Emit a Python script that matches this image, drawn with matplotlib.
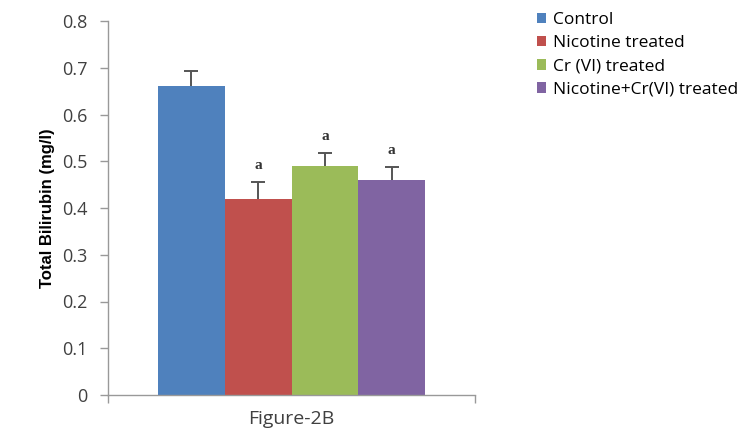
import matplotlib
matplotlib.use("Agg")
import matplotlib.pyplot as plt
from matplotlib.patches import Patch

groups = ["Control", "Nicotine treated", "Cr (VI) treated", "Nicotine+Cr(VI) treated"]
values = [0.66, 0.42, 0.49, 0.46]
errors = [0.033, 0.036, 0.028, 0.028]
marks = ["", "a", "a", "a"]
colors = ["#4F81BD", "#C0504D", "#9BBB59", "#8064A2"]
yticks = [0, 0.1, 0.2, 0.3, 0.4, 0.5, 0.6, 0.7, 0.8]
ytick_labels = ["0", "0.1", "0.2", "0.3", "0.4", "0.5", "0.6", "0.7", "0.8"]

plt.rcParams["font.family"] = ["Open Sans", "DejaVu Sans"]

fig = plt.figure(figsize=(7.52, 4.32), dpi=100)
ax = fig.add_axes([108 / 752, 1 - 395 / 432, (475 - 108) / 752, (395 - 21) / 432])

x = list(range(len(values)))
ax.bar(x, values, width=1.0, color=colors, edgecolor="none", zorder=2)
eb = ax.errorbar(x, values, yerr=[[0] * len(errors), errors], fmt="none",
                 ecolor="#555555", elinewidth=1.4, capsize=5, capthick=1.4, zorder=3)
# only the upper cap is shown
eb.lines[1][0].set_visible(False)

for xi, v, e, m in zip(x, values, errors, marks):
    if m:
        ax.text(xi, v + e + 0.035, m, ha="center", va="center",
                fontsize=11, fontweight="bold", family="Liberation Serif", color="#333333")

ax.set_ylim(0, 0.8)
ax.set_xlim(-1.25, 4.25)
ax.set_yticks(yticks)
ax.set_yticklabels(ytick_labels, fontsize=13, color="#404040")
ax.set_xticks([-1.25, 4.25])
ax.set_xticklabels(["", ""])
ax.tick_params(axis="both", direction="out", length=6, color="#999999", width=1)
ax.tick_params(axis="y", pad=9)

for side in ("top", "right"):
    ax.spines[side].set_visible(False)
for side in ("left", "bottom"):
    ax.spines[side].set_color("#999999")
    ax.spines[side].set_linewidth(1)

ax.set_ylabel("Total Bilirubin (mg/l)", fontsize=12, fontweight="bold",
              family=["Liberation Sans Narrow", "Liberation Sans"], labelpad=5)
ax.set_xlabel("Figure-2B", fontsize=14, color="#404040", labelpad=1)

handles = [Patch(facecolor=c, edgecolor="none") for c in colors]
fig.legend(handles, groups, loc="upper left", bbox_to_anchor=(530 / 752, 1 - 5 / 432),
           frameon=False, fontsize=12.5, handlelength=0.55, handleheight=0.55,
           handletextpad=0.35, labelspacing=0.42, borderaxespad=0)

fig.savefig("out.png", dpi=100)
